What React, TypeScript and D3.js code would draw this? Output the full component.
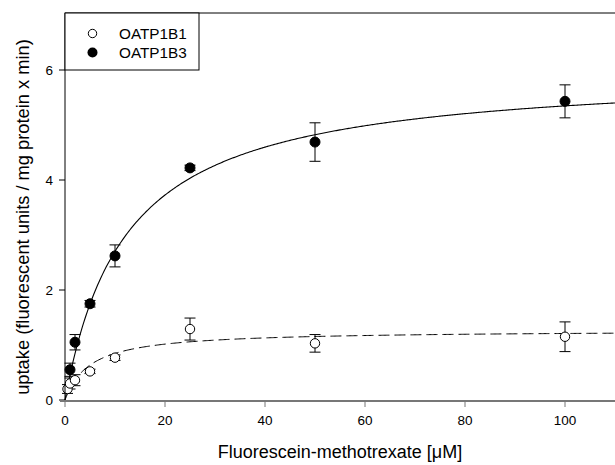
import React from "react";
import * as d3 from "d3";

const xTicks = [0, 20, 40, 60, 80, 100];
const yTicks = [0, 2, 4, 6];

const b1X = [0.5, 1, 2, 5, 10, 25, 50, 100];
const b1Y = [0.2, 0.3, 0.36, 0.52, 0.77, 1.29, 1.03, 1.15];
const b1Err = [0.08, 0.1, 0.1, 0.04, 0.05, 0.2, 0.16, 0.27];

const b3X = [1, 2, 5, 10, 25, 50, 100];
const b3Y = [0.55, 1.05, 1.75, 2.62, 4.22, 4.69, 5.43];
const b3Err = [0.12, 0.14, 0.06, 0.2, 0.05, 0.35, 0.3];

// Michaelis-Menten fit parameters
const b1Vmax = 1.27;
const b1Km = 5;
const b3Vmax = 6.0;
const b3Km = 12.2;

const W = 615;
const H = 465;

export default function App() {
  const x = d3.scaleLinear().domain([0, 110]).range([65, 615]);
  const y = d3.scaleLinear().domain([0, 7]).range([400, 15]);
  const samples = d3.range(0, 110.01, 0.25);
  const b3Line = d3
    .line<number>()
    .x((d) => x(d))
    .y((d) => y((b3Vmax * d) / (b3Km + d)))(samples) as string;
  const b1Line = d3
    .line<number>()
    .x((d) => x(d))
    .y((d) => y((b1Vmax * d) / (b1Km + d)))(samples) as string;

  const font = "'Liberation Sans', Arial, sans-serif";
  const cap = 5.5;

  const errBars = (xs: number[], ys: number[], es: number[], key: string) =>
    xs.map((xv, i) => {
      const cx = x(xv);
      const t = y(ys[i] + es[i]);
      const b = y(ys[i] - es[i]);
      return (
        <g key={key + i} stroke="#000" strokeWidth={1}>
          <line x1={cx} x2={cx} y1={t} y2={b} />
          <line x1={cx - cap} x2={cx + cap} y1={t} y2={t} />
          <line x1={cx - cap} x2={cx + cap} y1={b} y2={b} />
        </g>
      );
    });

  return (
    <svg
      width={W}
      height={H}
      style={{ position: "absolute", left: 0, top: 0, background: "#fff" }}
    >
      <rect x={0} y={0} width={W} height={H} fill="#fff" />
      {/* frame top */}
      <line x1={65} x2={615} y1={13} y2={13} stroke="#000" strokeWidth={1} />
      {/* curves */}
      <path d={b1Line} fill="none" stroke="#000" strokeWidth={1} strokeDasharray="11,5" />
      <path d={b3Line} fill="none" stroke="#000" strokeWidth={1.1} />
      {/* error bars */}
      {errBars(b1X, b1Y, b1Err, "e1")}
      {errBars(b3X, b3Y, b3Err, "e3")}
      {/* points */}
      {b1X.map((xv, i) => (
        <circle key={"p1" + i} cx={x(xv)} cy={y(b1Y[i])} r={4.7} fill="#fff" stroke="#000" strokeWidth={1} />
      ))}
      {b3X.map((xv, i) => (
        <circle key={"p3" + i} cx={x(xv)} cy={y(b3Y[i])} r={5} fill="#000" stroke="#000" strokeWidth={1} />
      ))}
      {/* y axis */}
      <line x1={65} x2={65} y1={13} y2={401} stroke="#000" strokeWidth={1} />
      {yTicks.map((t) => (
        <g key={"yt" + t}>
          <line x1={59} x2={65} y1={y(t)} y2={y(t)} stroke="#000" strokeWidth={1} />
          <text x={53} y={y(t)} dy="0.35em" textAnchor="end" fontFamily={font} fontSize={13.5} fill="#000">
            {t}
          </text>
        </g>
      ))}
      {/* x axis */}
      <line x1={60} x2={615} y1={401} y2={401} stroke="#777" strokeWidth={2} />
      {xTicks.map((t) => (
        <g key={"xt" + t}>
          <line x1={x(t)} x2={x(t)} y1={401} y2={407} stroke="#777" strokeWidth={1} />
          <text x={x(t)} y={425} textAnchor="middle" fontFamily={font} fontSize={13.5} fill="#000">
            {t}
          </text>
        </g>
      ))}
      {/* axis titles */}
      <text x={340} y={458} textAnchor="middle" fontFamily={font} fontSize={18} fill="#000">
        Fluorescein-methotrexate [μM]
      </text>
      <text
        transform="translate(29,217) rotate(-90)"
        textAnchor="middle"
        fontFamily={font}
        fontSize={18.3}
        fill="#000"
      >
        uptake (fluorescent units / mg protein x min)
      </text>
      {/* legend */}
      <rect x={65} y={13} width={134} height={57} fill="#fff" stroke="#000" strokeWidth={1} />
      <circle cx={92.5} cy={33.5} r={4.2} fill="#fff" stroke="#000" strokeWidth={1} />
      <circle cx={92.5} cy={52.5} r={5} fill="#000" />
      <text x={119} y={33} dy="0.36em" fontFamily={font} fontSize={15.3} fill="#000">
        OATP1B1
      </text>
      <text x={119} y={52.5} dy="0.36em" fontFamily={font} fontSize={15.3} fill="#000">
        OATP1B3
      </text>
    </svg>
  );
}
